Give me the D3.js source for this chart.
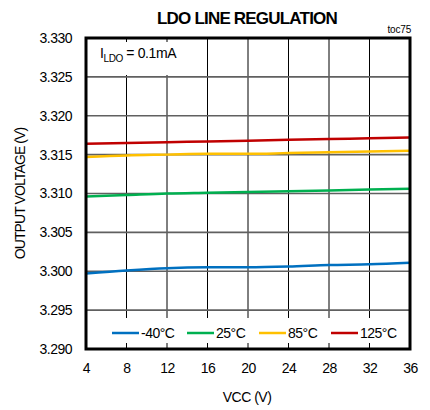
<!DOCTYPE html>
<html><head><meta charset="utf-8">
<script src="https://cdn.jsdelivr.net/npm/d3@7"></script>
<style>body{margin:0;background:#fff}svg{display:block}text{font-family:"Liberation Sans",Arial,sans-serif}</style>
</head><body><svg id="c" width="430" height="410"></svg>
<script>
const vcc = [4, 8, 12, 16, 20, 24, 28, 32, 36];
const seriesNames = ["-40°C", "25°C", "85°C", "125°C"];
const seriesColors = ["#0070C0", "#00B050", "#FFC000", "#C00000"];
const vM40 = [3.2997, 3.3001, 3.3004, 3.3005, 3.3005, 3.3006, 3.3008, 3.3009, 3.3011];
const v25 = [3.3096, 3.3098, 3.3100, 3.3101, 3.3102, 3.3103, 3.3104, 3.3105, 3.3106];
const v85 = [3.3147, 3.3149, 3.3150, 3.3151, 3.3151, 3.3152, 3.3153, 3.3154, 3.3155];
const v125 = [3.3164, 3.3165, 3.3166, 3.3167, 3.3168, 3.3169, 3.3170, 3.3171, 3.3172];
const xTicks = [4, 8, 12, 16, 20, 24, 28, 32, 36];
const yTicks = [3.290, 3.295, 3.300, 3.305, 3.310, 3.315, 3.320, 3.325, 3.330];
const allSeries = [vM40, v25, v85, v125];

const svg = d3.select("#c");
const L = 86, R = 410, T = 38, B = 349;
const x = d3.scaleLinear().domain([4, 36]).range([L, R]);
const y = d3.scaleLinear().domain([3.290, 3.330]).range([B, T]);

// gridlines
svg.append("g").selectAll("line").data(xTicks.slice(1, -1)).join("line")
  .attr("x1", d => x(d)).attr("x2", d => x(d)).attr("y1", T).attr("y2", B)
  .attr("stroke", "#000").attr("stroke-width", 1);
svg.append("g").selectAll("line").data(yTicks.slice(1, -1)).join("line")
  .attr("x1", L).attr("x2", R).attr("y1", d => y(d)).attr("y2", d => y(d))
  .attr("stroke", "#606060").attr("stroke-width", 1.6);

// white boxes covering grid (annotation + legend)
svg.append("rect").attr("x", L + 1).attr("y", T + 4).attr("width", 104).attr("height", 33).attr("fill", "#fff");
svg.append("rect").attr("x", L + 1).attr("y", 318).attr("width", R - L - 2).attr("height", 25).attr("fill", "#fff");

// axes labels
const xa = svg.append("g").attr("transform", `translate(0,${B})`)
  .call(d3.axisBottom(x).tickValues(xTicks).tickSize(0).tickPadding(14).tickFormat(d3.format("d")));
xa.select(".domain").remove();
xa.selectAll("text").attr("font-size", 14).attr("fill", "#000").attr("letter-spacing", -0.5)
  .attr("font-family", '"Liberation Sans",Arial,sans-serif');
const ya = svg.append("g").attr("transform", `translate(${L},0)`)
  .call(d3.axisLeft(y).tickValues(yTicks).tickSize(0).tickPadding(14).tickFormat(d3.format(".3f")));
ya.select(".domain").remove();
ya.selectAll("text").attr("font-size", 14).attr("fill", "#000").attr("letter-spacing", -0.5)
  .attr("font-family", '"Liberation Sans",Arial,sans-serif');

// data lines
const line = d3.line().x((d, i) => x(vcc[i])).y(d => y(d)).curve(d3.curveMonotoneX);
svg.append("g").selectAll("path").data(allSeries).join("path")
  .attr("d", d => line(d)).attr("fill", "none")
  .attr("stroke", (d, i) => seriesColors[i]).attr("stroke-width", 2.5);

// border
svg.append("rect").attr("x", L).attr("y", T).attr("width", R - L).attr("height", B - T)
  .attr("fill", "none").attr("stroke", "#000").attr("stroke-width", 3);

// legend
const legX = [112, 187, 259, 331];
const lg = svg.append("g").selectAll("g").data(seriesNames).join("g")
  .attr("transform", (d, i) => `translate(${legX[i]},333)`);
lg.append("line").attr("x1", 0).attr("x2", 27).attr("y1", 0).attr("y2", 0)
  .attr("stroke", (d, i) => seriesColors[i]).attr("stroke-width", 2.5);
lg.append("text").attr("x", 29).attr("y", 5).attr("font-size", 14).attr("letter-spacing", -0.5).text(d => d);

// annotation
const ann = svg.append("text").attr("x", 100).attr("y", 58).attr("font-size", 14).attr("letter-spacing", -0.4);
ann.append("tspan").text("I");
ann.append("tspan").attr("dy", 4).attr("font-size", 10).text("LDO");
ann.append("tspan").attr("dy", -4).text(" = 0.1mA");

// titles
svg.append("text").attr("x", 247).attr("y", 24).attr("text-anchor", "middle")
  .attr("font-size", 17).attr("font-weight", "bold").attr("letter-spacing", -0.8).text("LDO LINE REGULATION");
svg.append("text").attr("x", 411).attr("y", 33).attr("text-anchor", "end")
  .attr("font-size", 10).attr("letter-spacing", -0.2).text("toc75");
svg.append("text").attr("x", 247).attr("y", 402).attr("text-anchor", "middle")
  .attr("font-size", 14).attr("letter-spacing", -0.5).text("VCC (V)");
svg.append("text").attr("transform", `translate(25,${(T + B) / 2}) rotate(-90)`)
  .attr("text-anchor", "middle").attr("font-size", 14).attr("letter-spacing", -0.9).text("OUTPUT VOLTAGE (V)");
</script></body></html>
